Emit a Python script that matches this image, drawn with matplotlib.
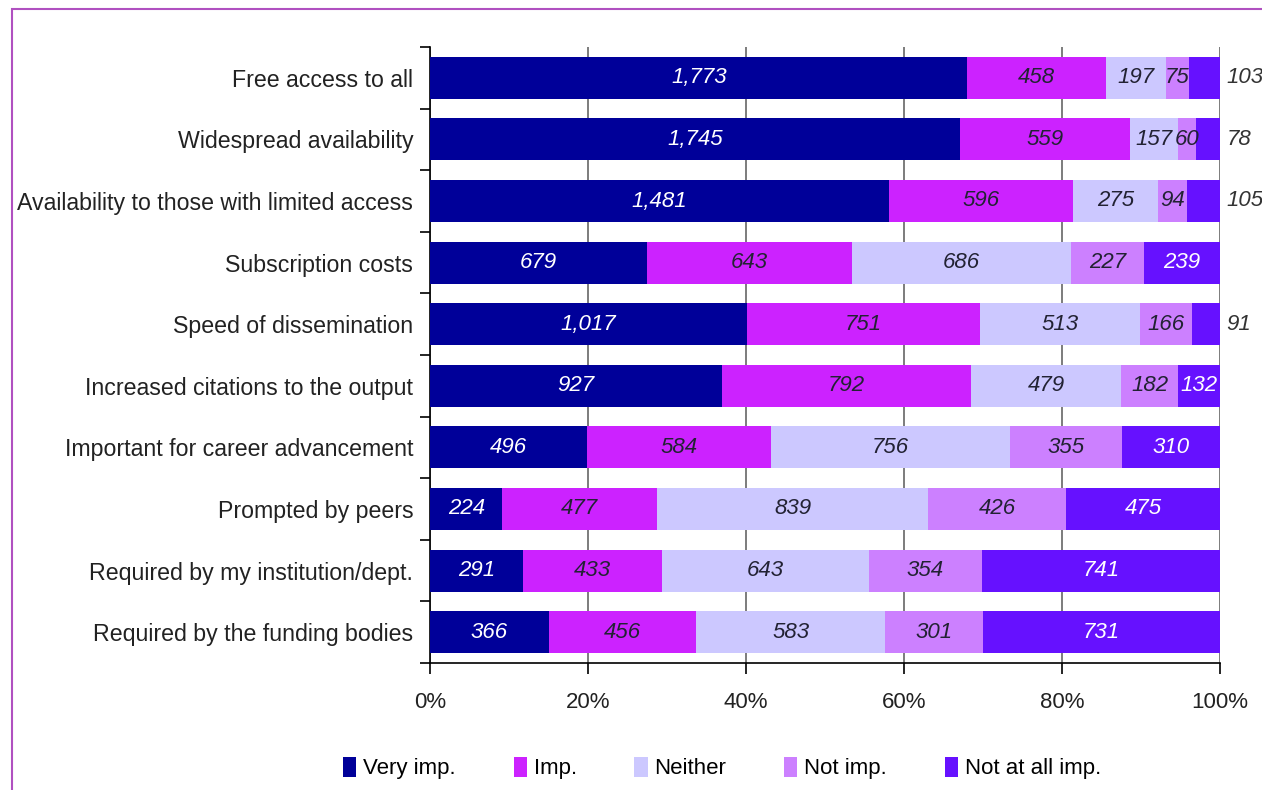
import matplotlib
matplotlib.use("Agg")
import matplotlib.pyplot as plt
from matplotlib.patches import Rectangle
from matplotlib.ticker import PercentFormatter
import numpy as np

categories = ["Free access to all", "Widespread availability",
              "Availability to those with limited access", "Subscription costs",
              "Speed of dissemination", "Increased citations to the output",
              "Important for career advancement", "Prompted by peers",
              "Required by my institution/dept.", "Required by the funding bodies"]
series_names = ["Very imp.", "Imp.", "Neither", "Not imp.", "Not at all imp."]
very_imp = [1773, 1745, 1481, 679, 1017, 927, 496, 224, 291, 366]
imp = [458, 559, 596, 643, 751, 792, 584, 477, 433, 456]
neither = [197, 157, 275, 686, 513, 479, 756, 839, 643, 583]
not_imp = [75, 60, 94, 227, 166, 182, 355, 426, 354, 301]
not_at_all = [103, 78, 105, 239, 91, 132, 310, 475, 741, 731]
xticks = [0, 20, 40, 60, 80, 100]

colors = ["#000099", "#cc22ff", "#ccc8ff", "#cc80ff", "#6611ff"]
text_colors = ["white", "#222233", "#222233", "#222233", "white"]

plt.rcParams['font.family'] = ['Liberation Sans Narrow', 'Liberation Sans', 'DejaVu Sans']

fig = plt.figure(figsize=(12.62, 7.9), dpi=100)
# frame lines
fig.patches.append(Rectangle((12/1262, -0.1), 1.2, (1 - 9/790) + 0.1, transform=fig.transFigure,
                             fill=False, edgecolor="#b050c0", linewidth=1.5))
ax = fig.add_axes([430/1262, 1 - 663/790, 790/1262, (663 - 47)/790])

data = np.array([very_imp, imp, neither, not_imp, not_at_all], dtype=float)
totals = data.sum(axis=0)
pct = data / totals * 100
y = np.arange(len(categories))
left = np.zeros(len(categories))
for i, name in enumerate(series_names):
    ax.barh(y, pct[i], left=left, height=0.68, color=colors[i], label=name,
            zorder=3, edgecolor='none')
    for j in range(len(categories)):
        w = pct[i][j]
        val = f"{int(data[i][j]):,}"
        if i == 4 and w < 4.5:
            ax.text(100.8, y[j], val, ha='left', va='center', fontsize=16,
                    style='italic', color='#333333', clip_on=False)
        else:
            ax.text(left[j] + w / 2, y[j], val, ha='center', va='center', fontsize=16,
                    style='italic', color=text_colors[i], zorder=4)
    left += pct[i]

ax.set_xlim(0, 100)
ax.set_ylim(len(categories) - 0.5, -0.5)
ax.set_xticks(xticks)
ax.xaxis.set_major_formatter(PercentFormatter(decimals=0))
ax.set_yticks(y)
ax.set_yticklabels(categories, fontsize=16.7, color='#222222')
ax.set_yticks(np.arange(-0.5, len(categories), 1), minor=True)
ax.tick_params(axis='y', which='major', length=0, pad=12)
ax.tick_params(axis='y', which='minor', length=7, width=1.2, direction='out')
ax.tick_params(axis='x', length=8, width=1.2, direction='out', labelsize=16, pad=13,
               labelcolor='#222222')
ax.grid(axis='x', color='#666666', linewidth=1.2, zorder=0)
for s in ['top', 'right']:
    ax.spines[s].set_visible(False)
for s in ['left', 'bottom']:
    ax.spines[s].set_linewidth(1.2)

handles, labels = ax.get_legend_handles_labels()
fig.legend(handles, labels, loc='center', bbox_to_anchor=(722/1262, 1 - 768/790), ncol=5,
           frameon=False, fontsize=16, handlelength=0.6, handleheight=1.0,
           handletextpad=0.3, columnspacing=2.6)

fig.savefig("out.png", dpi=100)
